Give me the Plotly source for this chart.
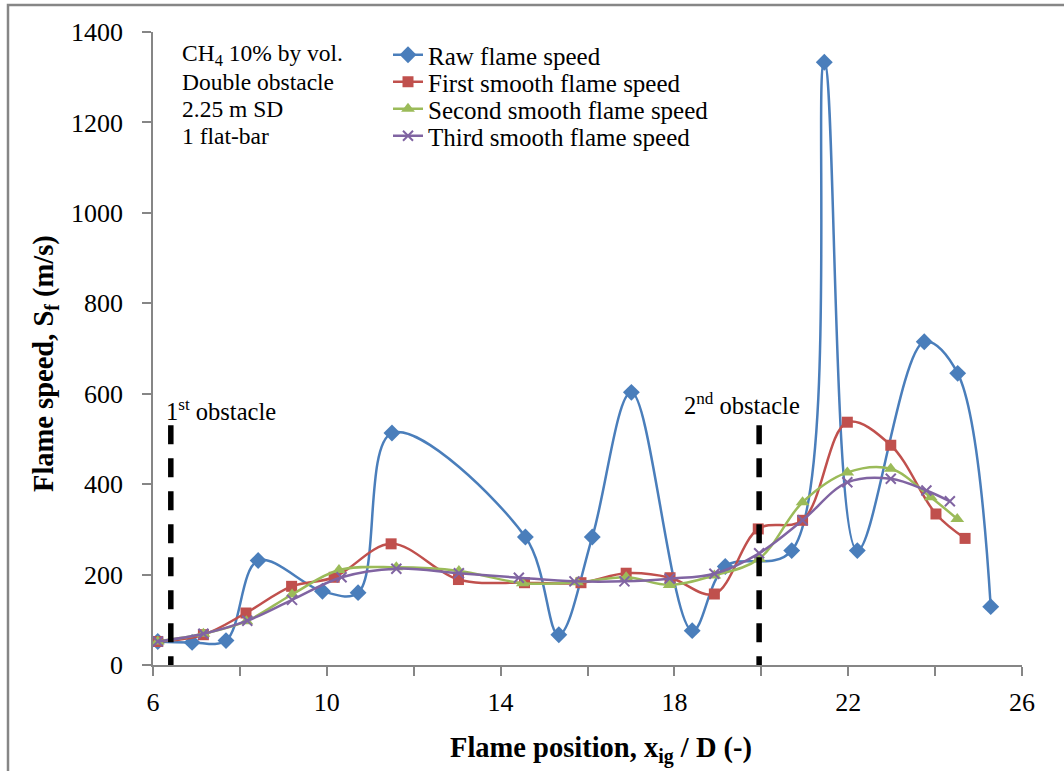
import plotly.graph_objects as go

# ---- data ----
raw_x = [6.11, 6.90, 7.68, 8.42, 9.90, 10.72, 11.50, 14.57, 15.34, 16.11, 17.01,
         18.41, 19.17, 20.70, 21.45, 22.21, 23.75, 24.52, 25.28]
raw_y = [52, 50, 54, 231, 163, 160, 513, 283, 67, 283, 603,
         76, 218, 253, 1333, 253, 715, 645, 129]

first_x = [6.11, 7.16, 8.14, 9.19, 10.17, 11.48, 13.03, 14.55, 15.85, 16.89, 17.90,
           18.92, 19.93, 20.95, 21.98, 22.98, 24.02, 24.69]
first_y = [52, 67, 115, 174, 194, 268, 189, 182, 182, 203, 193,
           157, 301, 320, 537, 486, 334, 280]

second_x = [6.11, 7.16, 8.15, 9.20, 10.28, 11.60, 13.04, 14.51, 15.76, 16.89, 17.89,
            18.92, 19.95, 20.95, 21.98, 22.98, 23.90, 24.51]
second_y = [52, 69, 97, 156, 210, 216, 208, 181, 183, 194, 177,
            198, 235, 360, 426, 434, 371, 323]

third_x = [6.11, 7.16, 8.17, 9.20, 10.34, 11.60, 13.04, 14.42, 15.70, 16.85, 17.89,
           18.92, 19.95, 20.95, 21.98, 22.98, 23.80, 24.34]
third_y = [52, 69, 98, 144, 194, 213, 203, 193, 185, 185, 191,
           202, 247, 320, 404, 412, 386, 362]

obstacle_x = [6.41, 19.95]
obstacle_top = 530
obstacle_labels = ["1<sup>st</sup> obstacle", "2<sup>nd</sup> obstacle"]

x_ticks = [6, 8, 10, 12, 14, 16, 18, 20, 22, 24, 26]
x_ticklabels = ["6", "", "10", "", "14", "", "18", "", "22", "", "26"]
y_ticks = [0, 200, 400, 600, 800, 1000, 1200, 1400]

info_lines = ["CH<sub>4</sub> 10% by vol.", "Double obstacle", "2.25 m SD", "1 flat-bar"]

series = [
    ("Raw flame speed", raw_x, raw_y, "#4A7EBB", "diamond", 13),
    ("First smooth flame speed", first_x, first_y, "#C0504D", "square", 11),
    ("Second smooth flame speed", second_x, second_y, "#9BBB59", "triangle-up", 12),
    ("Third smooth flame speed", third_x, third_y, "#8064A2", "x-thin", 10),
]

FONT = "Liberation Serif, Times New Roman, serif"

# plot area in pixels (for placing paper-referenced text)
L, R, T, B = 153, 1022, 32, 665


def px_to_paper_x(px):
    return (px - L) / (R - L)


def px_to_paper_y(py):
    return (B - py) / (B - T)


fig = go.Figure()
legend_names = ["legend", "legend2", "legend3", "legend4"]
for (name, xs, ys, col, sym, sz), lg in zip(series, legend_names):
    marker = dict(symbol=sym, size=sz, color=col)
    if sym == "x-thin":
        marker["line"] = dict(color=col, width=2)
    fig.add_trace(go.Scatter(
        x=xs, y=ys, name=name, mode="lines+markers", legend=lg,
        line=dict(color=col, width=2.5, shape="spline", smoothing=1.0),
        marker=marker,
    ))

for ox in obstacle_x:
    fig.add_shape(type="line", xref="x", yref="y", x0=ox, x1=ox, y0=obstacle_top, y1=0,
                  line=dict(color="black", width=5.5, dash="19px,14px"))

# outer chart border
fig.add_shape(type="rect", xref="paper", yref="paper",
              x0=px_to_paper_x(8), x1=px_to_paper_x(1070),
              y0=px_to_paper_y(780), y1=px_to_paper_y(5),
              line=dict(color="#868686", width=2.5), layer="below")

ann = []
for i, t in enumerate(info_lines):
    ann.append(dict(text=t, xref="paper", yref="paper",
                    x=px_to_paper_x(180), y=px_to_paper_y(55 + 27 * i),
                    xanchor="left", yanchor="middle", showarrow=False,
                    font=dict(family=FONT, size=23.5, color="black")))
ann.append(dict(text=obstacle_labels[0], xref="paper", yref="paper",
                x=px_to_paper_x(164), y=px_to_paper_y(410),
                xanchor="left", yanchor="middle", showarrow=False,
                font=dict(family=FONT, size=24.5, color="black")))
ann.append(dict(text=obstacle_labels[1], xref="paper", yref="paper",
                x=px_to_paper_x(682), y=px_to_paper_y(404),
                xanchor="left", yanchor="middle", showarrow=False,
                font=dict(family=FONT, size=24.5, color="black")))
# axis titles
ann.append(dict(text="<b>Flame position, x<sub>ig</sub> / D (-)</b>", xref="paper", yref="paper",
                x=px_to_paper_x(601), y=px_to_paper_y(750), xanchor="center", yanchor="middle",
                showarrow=False, font=dict(family=FONT, size=28.5, color="black")))
ann.append(dict(text="<b>Flame speed, S<sub>f</sub> (m/s)</b>", xref="paper", yref="paper",
                x=px_to_paper_x(46), y=px_to_paper_y(364), xanchor="center", yanchor="middle",
                textangle=-90, showarrow=False,
                font=dict(family=FONT, size=28.5, color="black")))

legend_common = dict(xanchor="left", yanchor="middle", bgcolor="rgba(0,0,0,0)",
                     font=dict(family=FONT, size=25, color="black"), itemwidth=30)
legend_layout = {}
for i, lg in enumerate(legend_names):
    legend_layout[lg] = dict(x=px_to_paper_x(388), y=px_to_paper_y(55 + 27 * i), **legend_common)

fig.update_layout(
    width=1064, height=771,
    margin=dict(l=L, r=1064 - R, t=T, b=771 - B),
    paper_bgcolor="white", plot_bgcolor="white",
    font=dict(family=FONT, size=26, color="black"),
    showlegend=True,
    annotations=ann,
    xaxis=dict(range=[6, 26], tickvals=x_ticks, ticktext=x_ticklabels,
               showgrid=False, zeroline=False, showline=True, linecolor="#868686", linewidth=1.5,
               ticks="outside", ticklen=9, tickcolor="#868686", tickwidth=1.5,
               ticklabelstandoff=4, tickfont=dict(family=FONT, size=26)),
    yaxis=dict(range=[0, 1400], tickvals=y_ticks,
               showgrid=False, zeroline=False, showline=True, linecolor="#868686", linewidth=1.5,
               ticks="outside", ticklen=9, tickcolor="#868686", tickwidth=1.5,
               ticklabelstandoff=14, tickfont=dict(family=FONT, size=26)),
    **legend_layout,
)

fig.write_html("out.html")
